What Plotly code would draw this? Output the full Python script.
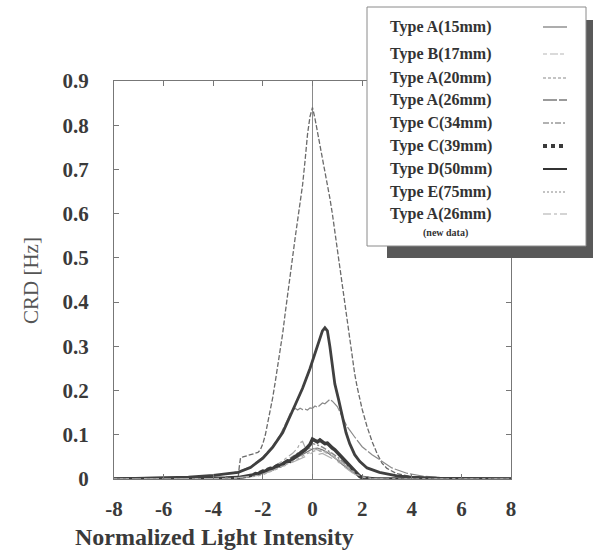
import plotly.graph_objects as go

# ---------------- data ----------------
x_ticks = [-8, -6, -4, -2, 0, 2, 4, 6, 8]
x_tick_labels = ["-8", "-6", "-4", "-2", "0", "2", "4", "6", "8"]
y_ticks = [0, 0.1, 0.2, 0.3, 0.4, 0.5, 0.6, 0.7, 0.8, 0.9]
y_tick_labels = ["0", "0.1", "0.2", "0.3", "0.4", "0.5", "0.6", "0.7", "0.8", "0.9"]

legend_names = ["Type A(15mm)", "Type B(17mm)", "Type A(20mm)", "Type A(26mm)",
                "Type C(34mm)", "Type C(39mm)", "Type D(50mm)", "Type E(75mm)",
                "Type A(26mm)"]
legend_note = "(new data)"

x_title = "Normalized Light Intensity"
y_title = "CRD [Hz]"

x_small = [-8, -4, -3.0, -2.6, -2.2, -2.0, -1.8, -1.6, -1.4, -1.2, -1.0, -0.8, -0.6,
           -0.4, -0.2, 0.0, 0.2, 0.4, 0.6, 0.8, 1.0, 1.2, 1.4, 1.6, 1.8, 2.0, 2.4, 3, 8]

y_a15 = [0, 0.001, 0.003, 0.005, 0.009, 0.012, 0.016, 0.021, 0.026, 0.031, 0.037, 0.043,
         0.049, 0.055, 0.062, 0.068, 0.070, 0.066, 0.060, 0.052, 0.043, 0.033, 0.024,
         0.015, 0.008, 0.004, 0.001, 0, 0]

x_b17 = [-8, -4, -3.0, -2.6, -2.2, -2.0, -1.8, -1.6, -1.4, -1.2, -1.0, -0.8, -0.6, -0.5,
         -0.4, -0.3, -0.2, 0.0, 0.2, 0.4, 0.6, 0.8, 1.0, 1.2, 1.4, 1.6, 1.8, 2.0, 2.4, 3, 8]
y_b17 = [0, 0.001, 0.004, 0.008, 0.013, 0.017, 0.022, 0.028, 0.034, 0.041, 0.050, 0.058,
         0.070, 0.082, 0.085, 0.072, 0.068, 0.070, 0.066, 0.062, 0.058, 0.052, 0.044,
         0.035, 0.026, 0.018, 0.011, 0.006, 0.002, 0, 0]

x_a20 = [-8, -4, -3.0, -2.95, -2.9, -2.8, -2.6, -2.4, -2.2,
         -2.1, -2.0, -1.9, -1.8, -1.7, -1.6, -1.5, -1.4, -1.3, -1.2, -1.1, -1.0, -0.9,
         -0.8, -0.7, -0.6, -0.5, -0.4, -0.3, -0.2, -0.1, 0.0, 0.1, 0.2, 0.3, 0.4, 0.5,
         0.6, 0.7, 0.8, 0.9, 1.0, 1.1, 1.2, 1.3, 1.4, 1.5, 1.6, 1.7, 1.8, 1.9, 2.0,
         2.2, 2.4, 2.6, 2.8, 3.0, 3.4, 4.0, 5.0, 8]
y_a20 = [0, 0, 0, 0.028, 0.048, 0.050, 0.053, 0.056, 0.060,
         0.066, 0.08, 0.10, 0.126, 0.155, 0.185, 0.22, 0.255, 0.29, 0.33, 0.375, 0.42,
         0.46, 0.50, 0.545, 0.585, 0.625, 0.665, 0.72, 0.78, 0.82, 0.84, 0.815, 0.785,
         0.755, 0.725, 0.70, 0.67, 0.635, 0.60, 0.56, 0.52, 0.48, 0.44, 0.395, 0.35,
         0.31, 0.272, 0.238, 0.208, 0.182, 0.158,
         0.118, 0.085, 0.058, 0.036, 0.024, 0.012, 0.005, 0.002, 0]

x_a26 = [-8, -6, -4, -3, -2.5, -2, -1.6, -1.3, -1.0, -0.9, -0.8, -0.7, -0.6, -0.5, -0.4,
         -0.3, -0.2, -0.1, 0.0, 0.1, 0.2, 0.3, 0.4, 0.5, 0.6, 0.7, 0.8, 0.9, 1.0, 1.1,
         1.2, 1.4, 1.7, 2.0, 2.4, 2.7, 3.2, 3.8, 4.5, 5.5, 8]
y_a26 = [0, 0.002, 0.007, 0.016, 0.028, 0.05, 0.075, 0.10, 0.135, 0.148, 0.155, 0.160,
         0.156, 0.160, 0.157, 0.158, 0.156, 0.161, 0.160, 0.165, 0.162, 0.168, 0.172,
         0.170, 0.176, 0.180, 0.176, 0.170, 0.164, 0.152, 0.140, 0.118, 0.095, 0.073,
         0.055, 0.043, 0.025, 0.013, 0.006, 0.002, 0]

y_c34 = [0, 0.001, 0.003, 0.006, 0.010, 0.014, 0.019, 0.025, 0.030, 0.036, 0.043, 0.050,
         0.058, 0.064, 0.073, 0.080, 0.077, 0.072, 0.065, 0.058, 0.050, 0.040, 0.030,
         0.020, 0.012, 0.006, 0.002, 0, 0]

x_c39 = [-8, -5, -4, -3.5, -3.0, -2.9, -2.8, -2.7, -2.6, -2.5, -2.4, -2.3, -2.2, -2.1,
         -2.0, -1.9, -1.8, -1.7, -1.6, -1.5, -1.4, -1.3, -1.2, -1.1, -1.0, -0.9, -0.8,
         -0.7, -0.6, -0.5, -0.4, -0.3, -0.2, -0.1, 0.0, 0.1, 0.2, 0.3, 0.4, 0.5, 0.6,
         0.7, 0.8, 0.9, 1.0, 1.1, 1.2, 1.3, 1.4, 1.5, 1.6, 1.7, 1.8, 1.9, 2.0, 2.2,
         2.5, 3.0, 4.0, 8]
y_c39 = [0, 0, 0.001, 0.002, 0.003, 0.004, 0.004, 0.006, 0.005, 0.008, 0.009, 0.012,
         0.011, 0.015, 0.018, 0.017, 0.022, 0.024, 0.023, 0.028, 0.031, 0.030, 0.035,
         0.038, 0.041, 0.040, 0.046, 0.050, 0.053, 0.058, 0.062, 0.066, 0.072, 0.078,
         0.090, 0.087, 0.084, 0.088, 0.083, 0.080, 0.081, 0.075, 0.070, 0.066, 0.060,
         0.055, 0.048, 0.042, 0.035, 0.029, 0.022, 0.016, 0.010, 0.006, 0.003, 0.001,
         0, 0, 0, 0]

x_d50 = [-8, -7, -6, -5, -4, -3.5, -3, -2.5, -2, -1.6, -1.2, -0.8, -0.4, -0.1, 0.1, 0.3,
         0.4, 0.5, 0.6, 0.7, 0.8, 0.9, 1.05, 1.2, 1.35, 1.5, 1.7, 1.9, 2.2, 2.7, 3.4,
         4, 5, 8]
y_d50 = [0, 0.001, 0.002, 0.004, 0.008, 0.011, 0.015, 0.026, 0.047, 0.072, 0.105, 0.155,
         0.205, 0.25, 0.285, 0.32, 0.335, 0.342, 0.335, 0.30, 0.25, 0.215, 0.18, 0.14,
         0.105, 0.08, 0.055, 0.04, 0.025, 0.015, 0.007, 0.004, 0.002, 0]

y_e75 = [0, 0, 0.002, 0.004, 0.007, 0.010, 0.014, 0.019, 0.024, 0.029, 0.034, 0.040,
         0.045, 0.052, 0.058, 0.062, 0.066, 0.060, 0.064, 0.055, 0.046, 0.036, 0.026,
         0.017, 0.010, 0.005, 0.001, 0, 0]

y_a26n = [0, 0.001, 0.003, 0.005, 0.008, 0.011, 0.015, 0.019, 0.023, 0.028, 0.033, 0.038,
          0.043, 0.048, 0.053, 0.060, 0.055, 0.058, 0.052, 0.047, 0.040, 0.031, 0.022,
          0.014, 0.008, 0.004, 0.001, 0, 0]

series_x = [x_small, x_b17, x_a20, x_a26, x_small, x_c39, x_d50, x_small, x_small]
series_y = [y_a15, y_b17, y_a20, y_a26, y_c34, y_c39, y_d50, y_e75, y_a26n]

# ---------------- styles ----------------
trace_styles = [
    dict(color="#777777", width=1.2, dash="solid"),
    dict(color="#aaaaaa", width=1.2, dash="dashdot"),
    dict(color="#6a6a6a", width=1.3, dash="5px,2px"),
    dict(color="#8a8a8a", width=1.2, dash="14px,2px"),
    dict(color="#888888", width=1.5, dash="6px,2px,2px,2px"),
    dict(color="#3c3c3c", width=3.6, dash="solid"),
    dict(color="#404040", width=2.8, dash="solid"),
    dict(color="#a8a8a8", width=1.4, dash="dot"),
    dict(color="#b0b0b0", width=1.2, dash="longdashdot"),
]
sample_styles = [
    dict(color="#777777", width=1.2, dash="solid"),
    dict(color="#b5b5b5", width=1.2, dash="4px,3px,8px,2px"),
    dict(color="#8a8a8a", width=1.2, dash="3px,2px"),
    dict(color="#7a7a7a", width=1.3, dash="14px,2px"),
    dict(color="#999999", width=1.3, dash="6px,2px,2px,2px"),
    dict(color="#3a3a3a", width=4, dash="4px,4px"),
    dict(color="#333333", width=2, dash="solid"),
    dict(color="#b0b0b0", width=1.3, dash="2px,2px"),
    dict(color="#aaaaaa", width=1.2, dash="8px,3px,3px,3px"),
]

W, H = 593, 552
ML, MR, MT, MB = 114, 82, 81, 73
PW, PH = W - ML - MR, H - MT - MB


def px(x):
    return (x - ML) / PW


def py(y):
    return (H - MB - y) / PH


SERIF = "Liberation Serif"

fig = go.Figure()
for xs, ys, st, nm in zip(series_x, series_y, trace_styles, legend_names):
    fig.add_trace(go.Scatter(x=xs, y=ys, mode="lines", name=nm, showlegend=False,
                             line=dict(color=st["color"], width=st["width"], dash=st["dash"])))

axis_common = dict(
    ticks="inside", ticklen=5, tickcolor="#777777", tickwidth=1,
    showline=True, linecolor="#777777", linewidth=1, mirror="ticks",
    showgrid=False,
    tickfont=dict(family=SERIF, size=21, color="#3a3a3a", weight="bold"),
)

fig.update_xaxes(range=[-8, 8], tickmode="array", tickvals=x_ticks, ticktext=x_tick_labels,
                 zeroline=True, zerolinecolor="#8a8a8a", zerolinewidth=1,
                 ticklabelstandoff=11, **axis_common)
fig.update_yaxes(range=[0, 0.9], tickmode="array", tickvals=y_ticks, ticktext=y_tick_labels,
                 zeroline=False, ticklabelstandoff=20, **axis_common)

shapes = []
# legend shadow and box
shapes.append(dict(type="rect", xref="paper", yref="paper", layer="above",
                   x0=px(387), x1=px(596), y0=py(258), y1=py(20),
                   fillcolor="#595959", line=dict(width=0)))
shapes.append(dict(type="rect", xref="paper", yref="paper", layer="above",
                   x0=px(367), x1=px(586), y0=py(246), y1=py(7),
                   fillcolor="white", line=dict(color="#8a8a8a", width=1)))

row_y = [27, 54, 78, 100, 123, 146, 169, 192, 214]
annotations = []
for name, ry, st in zip(legend_names, row_y, sample_styles):
    annotations.append(dict(text=name, xref="paper", yref="paper", x=px(388), y=py(ry),
                            xanchor="left", yanchor="middle", showarrow=False,
                            font=dict(family=SERIF, size=16, color="#333333", weight="bold")))
    shapes.append(dict(type="line", xref="paper", yref="paper", layer="above",
                       x0=px(543), x1=px(567), y0=py(ry), y1=py(ry),
                       line=dict(color=st["color"], width=st["width"], dash=st["dash"])))
annotations.append(dict(text=legend_note, xref="paper", yref="paper", x=px(445), y=py(233),
                        xanchor="center", yanchor="middle", showarrow=False,
                        font=dict(family=SERIF, size=10, color="#333333", weight="bold")))

annotations.append(dict(text=x_title, xref="paper", yref="paper", x=px(214), y=py(537),
                        xanchor="center", yanchor="middle", showarrow=False,
                        font=dict(family=SERIF, size=24, color="#3a3a3a", weight="bold")))
annotations.append(dict(text=y_title, xref="paper", yref="paper", x=px(31), y=py(281),
                        xanchor="center", yanchor="middle", showarrow=False, textangle=-90,
                        font=dict(family=SERIF, size=21, color="#555555")))

fig.update_layout(width=W, height=H, margin=dict(l=ML, r=MR, t=MT, b=MB, autoexpand=False),
                  paper_bgcolor="white", plot_bgcolor="white", showlegend=False,
                  shapes=shapes, annotations=annotations)

fig.write_html("out.html", config={"displayModeBar": False},
               post_script="document.body.style.margin='0';document.body.style.overflow='hidden';")
